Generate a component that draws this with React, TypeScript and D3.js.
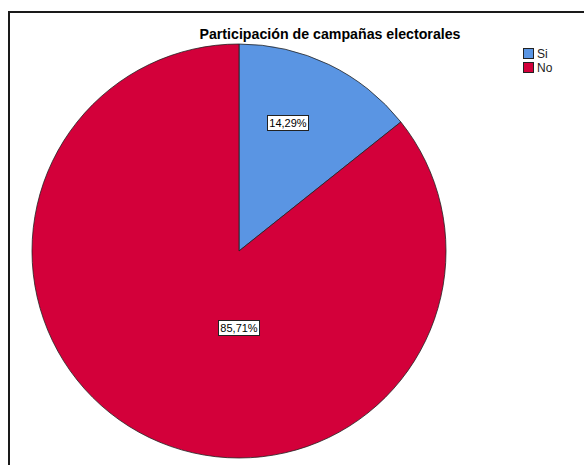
import { useEffect, useRef } from "react";
import * as d3 from "d3";

const categories = ["Si", "No"];
const percentages = [14.29, 85.71];
const labelTexts = ["14,29%", "85,71%"];
const colors = ["#5A95E3", "#D3003A"];
const chartTitle = "Participación de campañas electorales";

// label placement (angle in degrees, fraction of radius) as SPSS puts them
const labelPlacement = [
  { angle: 21, frac: 0.66 },
  { angle: 180, frac: 0.37 },
];

interface Slice {
  name: string;
  value: number;
  label: string;
  color: string;
}

export default function App() {
  const svgRef = useRef<SVGSVGElement>(null);
  const width = 584;
  const height = 465;

  useEffect(() => {
    if (!svgRef.current) return;
    const svg = d3.select(svgRef.current);
    svg.selectAll("*").remove();

    const data: Slice[] = categories.map((c, i) => ({
      name: c,
      value: percentages[i],
      label: labelTexts[i],
      color: colors[i],
    }));

    svg.append("rect").attr("width", width).attr("height", height).attr("fill", "#fff");

    // outer frame
    svg
      .append("path")
      .attr("d", `M9,${height} L9,12 L${width},12`)
      .attr("fill", "none")
      .attr("stroke", "#1a1a1a")
      .attr("stroke-width", 2);

    const cx = 239;
    const cy = 251;
    const r = 207;

    const pie = d3.pie<Slice>().sort(null).value((d) => d.value);
    const arc = d3.arc<d3.PieArcDatum<Slice>>().innerRadius(0).outerRadius(r);

    const g = svg.append("g").attr("transform", `translate(${cx},${cy})`);

    g.selectAll("path")
      .data(pie(data))
      .enter()
      .append("path")
      .attr("d", arc)
      .attr("fill", (d) => d.data.color)
      .attr("stroke", "#222")
      .attr("stroke-width", 0.8);

    // value labels
    data.forEach((d, i) => {
      const p = labelPlacement[i];
      const a = (p.angle * Math.PI) / 180;
      const x = Math.sin(a) * r * p.frac;
      const y = -Math.cos(a) * r * p.frac;
      const t = g
        .append("text")
        .attr("x", x)
        .attr("y", y)
        .attr("text-anchor", "middle")
        .attr("dominant-baseline", "central")
        .attr("font-family", "Liberation Sans, Arial, sans-serif")
        .attr("font-size", 11)
        .attr("fill", "#000")
        .text(d.label);
      const bb = (t.node() as SVGTextElement).getBBox();
      g.insert("rect", () => t.node())
        .attr("x", Math.round(bb.x) - 1.5)
        .attr("y", Math.round(y) - 7.5)
        .attr("width", Math.round(bb.width) + 3)
        .attr("height", 15)
        .attr("fill", "#fff")
        .attr("stroke", "#222")
        .attr("stroke-width", 1);
    });

    // title
    svg
      .append("text")
      .attr("x", 330)
      .attr("y", 39)
      .attr("text-anchor", "middle")
      .attr("font-family", "Liberation Sans, Arial, sans-serif")
      .attr("font-size", 14.2)
      .attr("font-weight", "bold")
      .attr("fill", "#000")
      .text(chartTitle);

    // legend
    const legend = svg.append("g").attr("transform", "translate(523,48)");
    data.forEach((d, i) => {
      const row = legend.append("g").attr("transform", `translate(0,${i * 14})`);
      row
        .append("rect")
        .attr("x", 0.5)
        .attr("y", 0.5)
        .attr("width", 10)
        .attr("height", 10)
        .attr("fill", d.color)
        .attr("stroke", "#222")
        .attr("stroke-width", 1);
      row
        .append("text")
        .attr("x", 14)
        .attr("y", 10)
        .attr("font-family", "Liberation Sans, Arial, sans-serif")
        .attr("font-size", 12)
        .attr("fill", "#222")
        .text(d.name);
    });
  }, []);

  return (
    <svg
      ref={svgRef}
      width={width}
      height={height}
      style={{ position: "absolute", left: 0, top: 0, display: "block" }}
    />
  );
}
